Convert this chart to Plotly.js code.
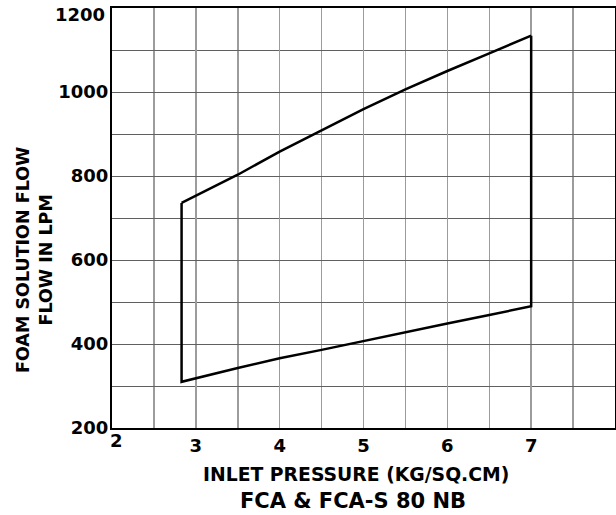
<!DOCTYPE html>
<html>
<head>
<meta charset="utf-8">
<script src="https://cdn.plot.ly/plotly-3.0.1.min.js"></script>
<style>html,body{margin:0;padding:0;background:#fff;}#chart{width:616px;height:515px;}</style>
</head>
<body>
<div id="chart"></div>
<script>
// Data
const pressure = [2.83, 3.5, 4, 4.5, 5, 5.5, 6, 6.5, 7];
const flowUpper = [736, 803, 858, 908, 959, 1006, 1050, 1092, 1134];
const flowLower = [310, 343, 366, 386, 407, 429, 449, 469, 490];
const xTickVals = [2, 3, 4, 5, 6, 7];
const xTickText = ['2', '3', '4', '5', '6', '7'];
const yTickVals = [200, 400, 600, 800, 1000, 1200];
const yTickText = ['200', '400', '600', '800', '1000', '1200'];

const n = pressure.length - 1;
const FONT = 'DejaVu Sans, Verdana, sans-serif';
const TICKFONT = {family: FONT, size: 18, weight: 'bold', color: '#000'};
const xRange = [2, 8];
const yRange = [200, 1200];
const LINE = {color: '#000', width: 2.5};

// lower boundary with the two vertical end edges (main axes)
const lowerTrace = {
  x: [pressure[0]].concat(pressure, [pressure[n]]),
  y: [flowUpper[0]].concat(flowLower, [flowUpper[n]]),
  type: 'scatter', mode: 'lines', line: LINE,
  hoverinfo: 'skip', showlegend: false
};
// upper boundary (overlay axes with identical ranges; they carry the edge tick labels)
const upperTrace = {
  x: pressure, y: flowUpper, xaxis: 'x2', yaxis: 'y2',
  type: 'scatter', mode: 'lines', line: LINE,
  hoverinfo: 'skip', showlegend: false
};

const last = yTickVals.length - 1;

const layout = {
  width: 616, height: 515,
  margin: {l: 112, r: 1, t: 8, b: 87},
  paper_bgcolor: '#fff', plot_bgcolor: '#fff',
  title: {
    text: 'FCA & FCA-S 80 NB',
    font: {family: FONT, size: 21, weight: 'bold', color: '#000'},
    x: 353 / 616, xref: 'container', xanchor: 'center',
    y: 1 - 501 / 515, yref: 'container', yanchor: 'middle'
  },
  xaxis: {
    range: xRange, tickmode: 'array', tickvals: xTickVals.slice(1), ticktext: xTickText.slice(1),
    showline: true, mirror: true, linecolor: '#000', linewidth: 2,
    showgrid: true, gridcolor: '#9c9c9c', gridwidth: 1.5, zeroline: false,
    ticks: '', tickfont: TICKFONT,
    minor: {tickmode: 'linear', tick0: 2, dtick: 0.5, showgrid: true, gridcolor: '#9c9c9c', gridwidth: 1.5, ticks: ''},
    fixedrange: true
  },
  xaxis2: {
    overlaying: 'x', anchor: 'y2', side: 'bottom',
    range: xRange, tickmode: 'array', tickvals: xTickVals.slice(0, 1), ticktext: xTickText.slice(0, 1),
    ticklabelposition: 'outside right', ticklabelshift: -2, showline: false, showgrid: false, zeroline: false,
    ticks: '', tickfont: TICKFONT, fixedrange: true
  },
  yaxis: {
    range: yRange, tickmode: 'array', tickvals: yTickVals.slice(0, last), ticktext: yTickText.slice(0, last),
    showline: true, mirror: true, linecolor: '#000', linewidth: 2,
    showgrid: true, gridcolor: '#606060', gridwidth: 1, zeroline: false,
    ticks: '', ticklabelstandoff: -2, tickfont: TICKFONT,
    minor: {tickmode: 'linear', tick0: 200, dtick: 100, showgrid: true, gridcolor: '#606060', gridwidth: 1, ticks: ''},
    fixedrange: true
  },
  yaxis2: {
    overlaying: 'y', anchor: 'x2', side: 'left',
    range: yRange, tickmode: 'array', tickvals: yTickVals.slice(last), ticktext: yTickText.slice(last),
    ticklabelposition: 'outside bottom', ticklabelshift: -6, showline: false, showgrid: false, zeroline: false,
    ticks: '', ticklabelstandoff: 6, tickfont: TICKFONT, fixedrange: true
  },
  annotations: [
    {
      text: 'INLET PRESSURE (KG/SQ.CM)', showarrow: false,
      xref: 'paper', x: (356 - 112) / 503, xanchor: 'center',
      yref: 'paper', y: -(474 - 428) / 420, yanchor: 'middle',
      font: {family: FONT, size: 18.8, weight: 'bold', color: '#000'}
    },
    {
      text: 'FOAM SOLUTION FLOW<br>FLOW IN LPM', showarrow: false, textangle: -90,
      xref: 'paper', x: -(112 - 34) / 503, xanchor: 'center',
      yref: 'paper', y: (428 - 260) / 420, yanchor: 'middle',
      font: {family: FONT, size: 17.5, weight: 'bold', color: '#000'}
    }
  ]
};

Plotly.newPlot('chart', [lowerTrace, upperTrace], layout, {displayModeBar: false, staticPlot: true});
</script>
</body>
</html>
